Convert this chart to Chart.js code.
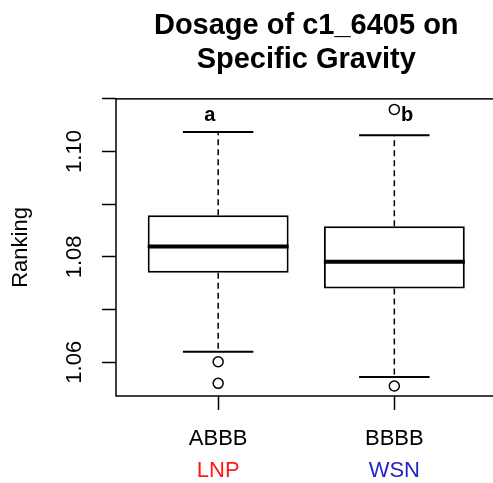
<!DOCTYPE html>
<html>
<head>
<meta charset="utf-8">
<script src="https://cdn.jsdelivr.net/npm/chart.js@4"></script>
<style>
  html, body { margin: 0; padding: 0; background: #fff; overflow: hidden; }
  #wrap { width: 493px; height: 483px; overflow: hidden; position: relative; }
  #chart { position: absolute; left: 0; top: 0; }
</style>
</head>
<body>
<div id="wrap"><canvas id="chart" width="510" height="483"></canvas></div>
<script>
'use strict';

// --- data ---
const genotypes = ['ABBB', 'BBBB'];
const groups = ['LNP', 'WSN'];
const groupColors = ['#FF1A1A', '#2626C4'];
const lowerWhisker = [1.0620, 1.0572];
const q1 = [1.0770, 1.0740];
const median = [1.0820, 1.0791];
const q3 = [1.0879, 1.0858];
const upperWhisker = [1.1037, 1.1031];
const outlierGroup = [1, 1, 2, 2];
const outlierValue = [1.0601, 1.0560, 1.0555, 1.1080];
const letters = ['a', 'b'];
const letterX = [0.953, 2.072];
const letterY = [1.1058, 1.1058];
const yTickValues = [1.06, 1.07, 1.08, 1.09, 1.10, 1.11];
const yTickLabels = ['1.06', '', '1.08', '', '1.10', ''];

const FONT = "'Liberation Sans', Arial, sans-serif";

// whiskers, caps, medians, letters, frame
const boxExtras = {
    id: 'boxExtras',
    afterDatasetsDraw(chart) {
        const { ctx, chartArea: a } = chart;
        const xs = chart.scales.x, ys = chart.scales.y;
        ctx.save();
        ctx.strokeStyle = '#000';
        genotypes.forEach((g, i) => {
            const xc = xs.getPixelForValue(i + 1);
            // dashed whiskers
            ctx.lineWidth = 1.5;
            ctx.setLineDash([6, 4]);
            ctx.beginPath();
            ctx.moveTo(xc, ys.getPixelForValue(q3[i]));
            ctx.lineTo(xc, ys.getPixelForValue(upperWhisker[i]));
            ctx.moveTo(xc, ys.getPixelForValue(q1[i]));
            ctx.lineTo(xc, ys.getPixelForValue(lowerWhisker[i]));
            ctx.stroke();
            ctx.setLineDash([]);
            // caps
            const cl = xs.getPixelForValue(i + 1 - 0.2), cr = xs.getPixelForValue(i + 1 + 0.2);
            ctx.lineWidth = 2;
            ctx.beginPath();
            [upperWhisker[i], lowerWhisker[i]].forEach(v => {
                const y = ys.getPixelForValue(v);
                ctx.moveTo(cl, y); ctx.lineTo(cr, y);
            });
            ctx.stroke();
            // median
            ctx.lineWidth = 4;
            ctx.beginPath();
            const ym = ys.getPixelForValue(median[i]);
            ctx.moveTo(xs.getPixelForValue(i + 1 - 0.4), ym);
            ctx.lineTo(xs.getPixelForValue(i + 1 + 0.4), ym);
            ctx.stroke();
        });
        // significance letters
        ctx.fillStyle = '#000';
        ctx.font = 'bold 20px ' + FONT;
        ctx.textAlign = 'center';
        ctx.textBaseline = 'alphabetic';
        letters.forEach((t, i) => {
            ctx.fillText(t, xs.getPixelForValue(letterX[i]), ys.getPixelForValue(letterY[i]));
        });
        // frame
        ctx.lineWidth = 1.5;
        ctx.strokeRect(a.left, a.top, a.right - a.left, a.bottom - a.top);
        ctx.restore();
    }
};

const boxData = genotypes.map((g, i) => ({ x: i + 1, y: [q1[i], q3[i]] }));
const outlierData = outlierValue.map((v, i) => ({ x: outlierGroup[i], y: v }));

new Chart(document.getElementById('chart'), {
    type: 'bar',
    data: {
        datasets: [{
            data: boxData,
            backgroundColor: '#fff',
            borderColor: '#000',
            borderWidth: 2,
            borderSkipped: false,
            barPercentage: 0.8,
            categoryPercentage: 1
        }, {
            type: 'line',
            data: outlierData,
            showLine: false,
            pointRadius: 5,
            pointBorderWidth: 1.5,
            pointBorderColor: '#000',
            pointBackgroundColor: '#fff'
        }]
    },
    options: {
        responsive: false,
        animation: false,
        devicePixelRatio: 1,
        layout: { padding: { left: 0, right: 13.5, top: 0, bottom: 0 } },
        plugins: {
            legend: { display: false },
            tooltip: { enabled: false },
            title: {
                display: true,
                fullSize: false,
                text: ['Dosage of c1_6405 on', 'Specific Gravity'],
                color: '#000',
                font: { family: FONT, size: 29, weight: 'bold', lineHeight: 1.17 },
                padding: { top: 9, bottom: 22 }
            }
        },
        scales: {
            x: {
                type: 'linear',
                min: 0.42, max: 2.58,
                offset: false,
                weight: 0,
                afterBuildTicks: s => { s.ticks = genotypes.map((g, i) => ({ value: i + 1 })); },
                afterFit: s => { s.height = 56; },
                grid: { offset: false, drawOnChartArea: false, tickLength: 14, tickColor: '#000', tickWidth: 1.5 },
                border: { display: false },
                ticks: {
                    color: '#000', padding: 16, maxRotation: 0,
                    font: { family: FONT, size: 22 },
                    callback: v => genotypes[v - 1]
                }
            },
            x2: {
                type: 'linear',
                position: 'bottom',
                min: 0.42, max: 2.58,
                offset: false,
                weight: 1,
                afterBuildTicks: s => { s.ticks = groups.map((g, i) => ({ value: i + 1 })); },
                afterFit: s => { s.height = 31; },
                grid: { display: false, drawTicks: false, offset: false },
                border: { display: false },
                ticks: {
                    padding: 6, maxRotation: 0,
                    color: c => groupColors[c.index],
                    font: { family: FONT, size: 22 },
                    callback: v => groups[v - 1]
                }
            },
            y: {
                min: 1.0536, max: 1.11,
                afterBuildTicks: s => { s.ticks = yTickValues.map(v => ({ value: v })); },
                afterFit: s => { s.width = 116; },
                grid: { drawOnChartArea: false, tickLength: 14, tickColor: '#000', tickWidth: 1.5 },
                border: { display: false },
                title: {
                    display: true, text: 'Ranking', color: '#000',
                    font: { family: FONT, size: 22 },
                    padding: { top: 8, bottom: 0 }
                },
                ticks: {
                    color: '#000', padding: 6, minRotation: 90, maxRotation: 90,
                    crossAlign: 'center',
                    font: { family: FONT, size: 22 },
                    callback: (v, i) => yTickLabels[i]
                }
            }
        }
    },
    plugins: [boxExtras]
});
</script>
</body>
</html>
